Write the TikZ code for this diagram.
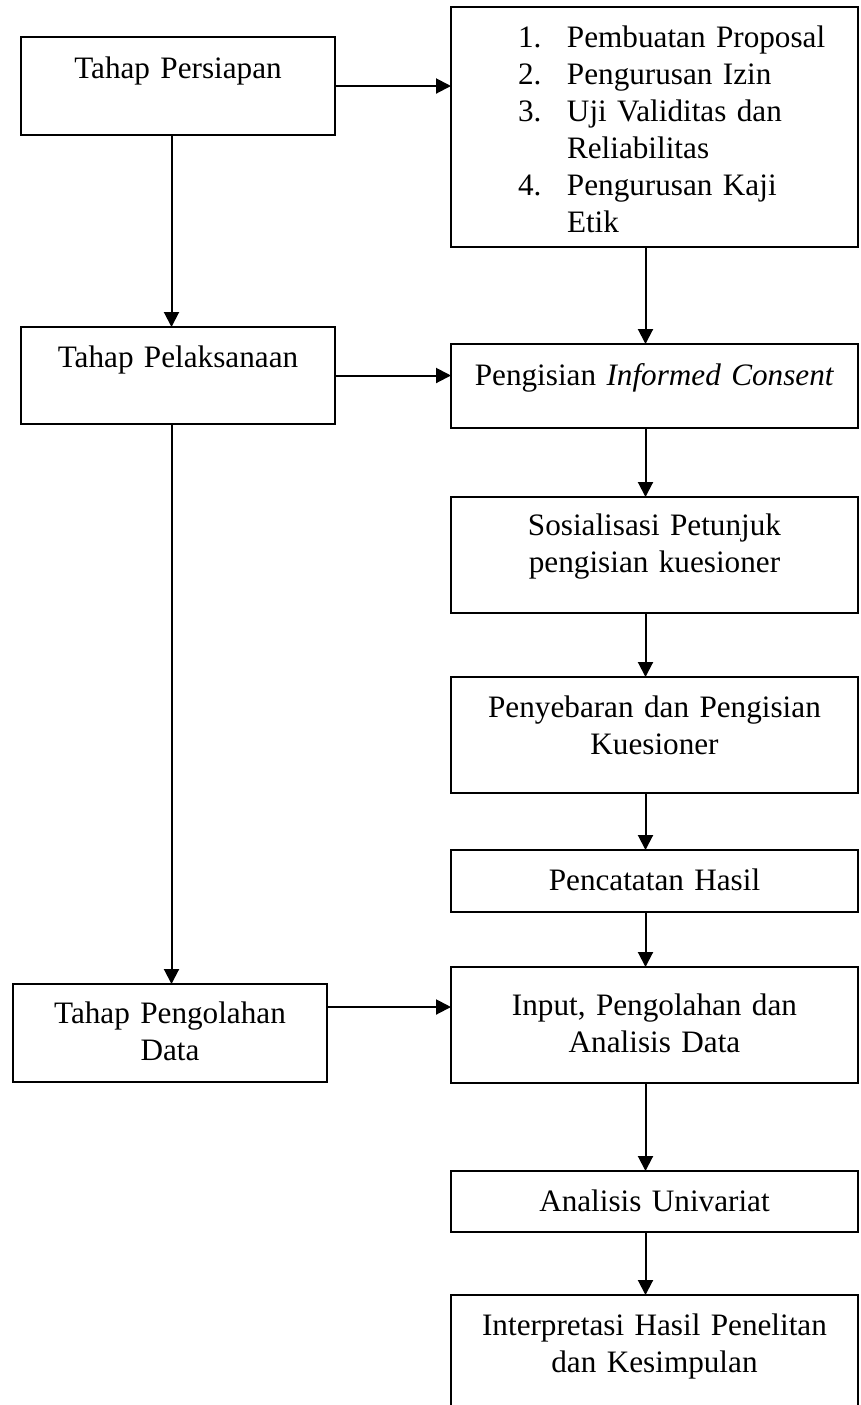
\documentclass[tikz,border=0pt]{standalone}
\usepackage{fontspec}
\setmainfont{Liberation Serif}
\usetikzlibrary{positioning,arrows.meta}

\tikzset{
  stage/.style={draw, line width=1pt, inner sep=0pt, outer sep=0pt,
    align=center, text height=20pt,
    font=\fontsize{15.6}{18.5}\selectfont},
  leftstage/.style={stage, text width=157pt},
  rightstage/.style={stage, text width=203.5pt},
  flow/.style={->, line width=1pt}
}
\newcommand{\numitem}[2]{\hspace*{33.5pt}\makebox[24.5pt][l]{#1}#2}
\newcommand{\contitem}[1]{\hspace*{58pt}#1}

\begin{document}
\begin{tikzpicture}[>={Triangle[length=7.5pt,width=7.5pt]}]
    \useasboundingbox (0,0) rectangle (430.5pt,-702.5pt);
    \coordinate (lspine) at (85.75pt,0);
    \coordinate (rspine) at (322.75pt,0);

    % left column
    \node[leftstage, anchor=north west, text height=20.5pt, text depth=28.5pt]
        (prep) at (10.5pt,-18.5pt) {Tahap Persiapan};
    \node[leftstage, text depth=28.5pt, below=96pt of prep] (pelaks) {Tahap Pelaksanaan};
    \node[leftstage, text height=19.5pt, text depth=29.5pt, below=280pt of pelaks, xshift=-4pt]
        (olah) {Tahap Pengolahan\\Data};

    % right column
    \node[rightstage, anchor=north west, align=left, text depth=100pt]
        (list) at (225.5pt,-3.5pt)
        {\numitem{1.}{Pembuatan Proposal}\\
         \numitem{2.}{Pengurusan Izin}\\
         \numitem{3.}{Uji Validitas dan}\\
         \contitem{Reliabilitas}\\
         \numitem{4.}{Pengurusan Kaji}\\
         \contitem{Etik}};
    \node[rightstage, text height=20.5pt, text depth=21.5pt, below=48.5pt of list]
        (consent) {Pengisian \textit{Informed Consent}};
    \node[rightstage, text height=19pt, text depth=39pt, below=34.5pt of consent]
        (sosial) {Sosialisasi Petunjuk\\pengisian kuesioner};
    \node[rightstage, text depth=38pt, below=32pt of sosial]
        (sebar) {Penyebaran dan Pengisian\\Kuesioner};
    \node[rightstage, text depth=11pt, below=28.5pt of sebar] (catat) {Pencatatan Hasil};
    \node[rightstage, text height=24pt, text depth=34pt, below=27.5pt of catat]
        (input) {Input, Pengolahan dan\\Analisis Data};
    \node[rightstage, text depth=10.5pt, below=44pt of input] (univ) {Analisis Univariat};
    \node[rightstage, text depth=40pt, below=31.5pt of univ]
        (interp) {Interpretasi Hasil Penelitan\\dan Kesimpulan};

    % connectors
    \draw[flow] (prep.south -| lspine) -- (pelaks.north -| lspine);
    \draw[flow] (pelaks.south -| lspine) -- (olah.north -| lspine);
    \draw[flow] (prep.east) -- (prep.east -| list.west);
    \draw[flow] (pelaks.east) -- (pelaks.east -| consent.west);
    \draw[flow] ([yshift=13pt]olah.east) -- ([yshift=13pt]olah.east -| input.west);
    \foreach \a/\b in {list/consent, consent/sosial, sosial/sebar, sebar/catat,
                       catat/input, input/univ, univ/interp}
        \draw[flow] (\a.south -| rspine) -- (\b.north -| rspine);
\end{tikzpicture}
\end{document}
